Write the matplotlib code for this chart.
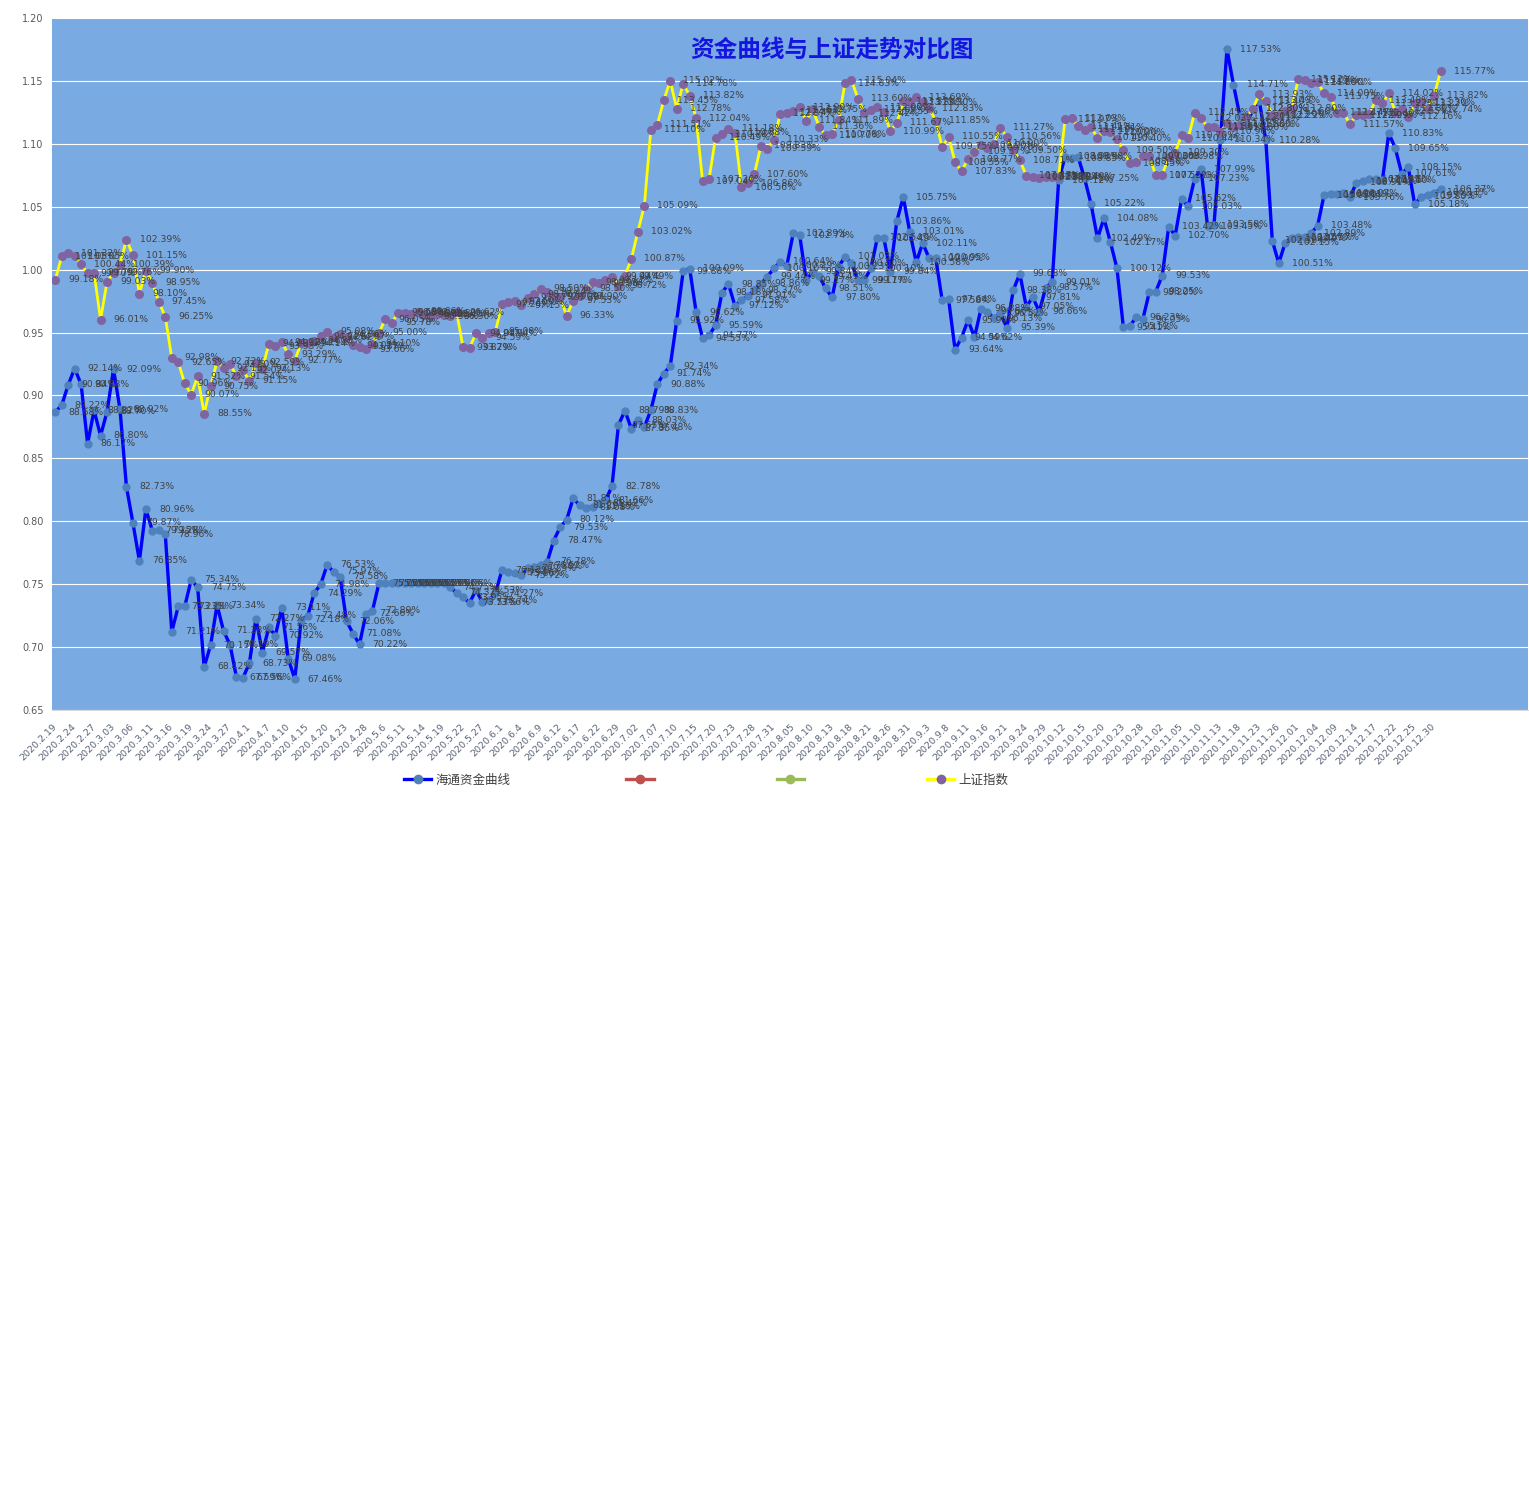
import numpy as np
import matplotlib
matplotlib.use('Agg')
import matplotlib.pyplot as plt
from matplotlib.lines import Line2D

# ==============================================
# Data
# ==============================================

tick_labels = [
    "2020.2.19", "2020.2.24", "2020.2.27", "2020.3.03", "2020.3.06", "2020.3.11",
    "2020.3.16", "2020.3.19", "2020.3.24", "2020.3.27", "2020.4.1", "2020.4.7",
    "2020.4.10", "2020.4.15", "2020.4.20", "2020.4.23", "2020.4.28", "2020.5.6",
    "2020.5.11", "2020.5.14", "2020.5.19", "2020.5.22", "2020.5.27", "2020.6.1",
    "2020.6.4", "2020.6.9", "2020.6.12", "2020.6.17", "2020.6.22", "2020.6.29",
    "2020.7.02", "2020.7.07", "2020.7.10", "2020.7.15", "2020.7.20", "2020.7.23",
    "2020.7.28", "2020.7.31", "2020.8.05", "2020.8.10", "2020.8.13", "2020.8.18",
    "2020.8.21", "2020.8.26", "2020.8.31", "2020.9.3", "2020.9.8", "2020.9.11",
    "2020.9.16", "2020.9.21", "2020.9.24", "2020.9.29", "2020.10.12", "2020.10.15",
    "2020.10.20", "2020.10.23", "2020.10.28", "2020.11.02", "2020.11.05", "2020.11.10",
    "2020.11.13", "2020.11.18", "2020.11.23", "2020.11.26", "2020.12.01", "2020.12.04",
    "2020.12.09", "2020.12.14", "2020.12.17", "2020.12.22", "2020.12.25", "2020.12.30",
]

# 海通资金曲线 (one value per trading day)
fund_curve = [
    0.8868, 0.8922, 0.9084, 0.9214, 0.9088, 0.8617, 0.8882, 0.8680, 0.8870, 0.9209,
    0.8892, 0.8273, 0.7987, 0.7685, 0.8096, 0.7925, 0.7928, 0.7896, 0.7121, 0.7323,
    0.7323, 0.7534, 0.7475, 0.6842, 0.7015, 0.7334, 0.7128, 0.7019, 0.6759, 0.6756,
    0.6873, 0.7227, 0.6957, 0.7156, 0.7092, 0.7311, 0.6908, 0.6746, 0.7218, 0.7248,
    0.7429, 0.7498, 0.7653, 0.7597, 0.7558, 0.7206, 0.7108, 0.7022, 0.7266, 0.7289,
    0.7506, 0.7506, 0.7506, 0.7506, 0.7506, 0.7506, 0.7506, 0.7506, 0.7506, 0.7506,
    0.7506, 0.7475, 0.7432, 0.7395, 0.7353, 0.7453, 0.7356, 0.7374, 0.7427, 0.7612,
    0.7594, 0.7586, 0.7572, 0.7625, 0.7638, 0.7652, 0.7678, 0.7847, 0.7953, 0.8012,
    0.8181, 0.8129, 0.8108, 0.8115, 0.8142, 0.8166, 0.8278, 0.8765, 0.8879, 0.8735,
    0.8803, 0.8748, 0.8883, 0.9088, 0.9174, 0.9234, 0.9592, 0.9988, 1.0009, 0.9662,
    0.9455, 0.9477, 0.9559, 0.9818, 0.9885, 0.9712, 0.9758, 0.9791, 0.9837, 0.9886,
    0.9944, 1.0010, 1.0064, 1.0029, 1.0289, 1.0274, 0.9917, 0.9984, 0.9949, 0.9851,
    0.9780, 1.0023, 1.0103, 1.0050, 0.9917, 0.9917, 1.0010, 1.0254, 1.0249, 0.9984,
    1.0386, 1.0575, 1.0301, 1.0058, 1.0211, 1.0090, 1.0095, 0.9758, 0.9764, 0.9364,
    0.9459, 0.9599, 0.9462, 0.9688, 0.9666, 0.9613, 0.9652, 0.9539, 0.9838, 0.9968,
    0.9705, 0.9781, 0.9666, 0.9857, 0.9901, 1.0712, 1.0898, 1.0885, 1.0898, 1.0725,
    1.0522, 1.0249, 1.0408, 1.0217, 1.0012, 0.9541, 0.9552, 0.9623, 0.9605, 0.9820,
    0.9825, 0.9953, 1.0342, 1.0270, 1.0562, 1.0503, 1.0723, 1.0799, 1.0345, 1.0358,
    1.1034, 1.1753, 1.1471, 1.1220, 1.1150, 1.1280, 1.1340, 1.1028, 1.0230, 1.0051,
    1.0215, 1.0249, 1.0257, 1.0257, 1.0289, 1.0348, 1.0593, 1.0601, 1.0601, 1.0607,
    1.0576, 1.0691, 1.0704, 1.0718, 1.0718, 1.0710, 1.1083, 1.0965, 1.0761, 1.0815,
    1.0518, 1.0580, 1.0593, 1.0611, 1.0637,
]

# 上证指数 (normalised)
sh_index = [
    0.9918, 1.0105, 1.0132, 1.0105, 1.0044, 0.9970, 0.9975, 0.9601, 0.9903, 0.9976,
    1.0039, 1.0239, 1.0115, 0.9810, 0.9990, 0.9895, 0.9745, 0.9625, 0.9298, 0.9265,
    0.9096, 0.9007, 0.9152, 0.8855, 0.9075, 0.9272, 0.9215, 0.9250, 0.9154, 0.9202,
    0.9115, 0.9259, 0.9213, 0.9409, 0.9393, 0.9422, 0.9329, 0.9277, 0.9419, 0.9414,
    0.9435, 0.9472, 0.9508, 0.9462, 0.9486, 0.9467, 0.9401, 0.9387, 0.9366, 0.9410,
    0.9500, 0.9605, 0.9578, 0.9658, 0.9658, 0.9648, 0.9666, 0.9640, 0.9630, 0.9650,
    0.9640, 0.9630, 0.9662, 0.9382, 0.9379, 0.9494, 0.9459, 0.9494, 0.9508, 0.9724,
    0.9740, 0.9750, 0.9715, 0.9777, 0.9806, 0.9850, 0.9824, 0.9790, 0.9780, 0.9633,
    0.9753, 0.9790, 0.9850, 0.9899, 0.9890, 0.9917, 0.9944, 0.9872, 0.9949, 1.0087,
    1.0302, 1.0509, 1.1110, 1.1151, 1.1345, 1.1502, 1.1278, 1.1478, 1.1382, 1.1204,
    1.0704, 1.0720, 1.1049, 1.1078, 1.1118, 1.1088, 1.0656, 1.0686, 1.0760, 1.0983,
    1.0959, 1.1033, 1.1237, 1.1247, 1.1263, 1.1290, 1.1184, 1.1275, 1.1136, 1.1070,
    1.1078, 1.1189, 1.1483, 1.1504, 1.1360, 1.1242, 1.1269, 1.1290, 1.1255, 1.1099,
    1.1167, 1.1337, 1.1330, 1.1369, 1.1330, 1.1283, 1.1185, 1.0975, 1.1055, 1.0855,
    1.0783, 1.0877, 1.0937, 1.0990, 1.0970, 1.1000, 1.1127, 1.1056, 1.0950, 1.0871,
    1.0747, 1.0739, 1.0731, 1.0739, 1.0734, 1.0740, 1.1197, 1.1203, 1.1141, 1.1110,
    1.1131, 1.1049, 1.1100, 1.1090, 1.1040, 1.0950, 1.0845, 1.0858, 1.0903, 1.0900,
    1.0752, 1.0752, 1.0898, 1.0930, 1.1070, 1.1044, 1.1245, 1.1203, 1.1136, 1.1131,
    1.1096, 1.1163, 1.1130, 1.1150, 1.1211, 1.1280, 1.1393, 1.1343, 1.1229, 1.1229,
    1.1260, 1.1280, 1.1512, 1.1507, 1.1486, 1.1490, 1.1400, 1.1375, 1.1247, 1.1247,
    1.1157, 1.1229, 1.1229, 1.1240, 1.1348, 1.1322, 1.1402, 1.1255, 1.1280, 1.1216,
    1.1322, 1.1330, 1.1274, 1.1382, 1.1577,
]

n_categories = 228  # axis keeps some empty rows after the last date

# ==============================================
# Figure
# ==============================================

W, H = 1529, 1496
fig = plt.figure(figsize=(W / 100, H / 100), dpi=100)
fig.patch.set_facecolor('white')
ax = fig.add_axes([52 / W, 1 - 710 / H, 1476 / W, 692 / H])
ax.set_facecolor('#7AAAE2')

x = np.arange(len(fund_curve))

ax.plot(x, fund_curve, color='#0000FF', lw=2.4, marker='o', ms=5,
        mfc='#4F81BD', mec='#4F81BD', zorder=3)
ax.plot(x, sh_index, color='#FFFF00', lw=2.0, marker='o', ms=5.5,
        mfc='#8064A2', mec='#8064A2', zorder=4)

# data labels to the right of every point
for series in (fund_curve, sh_index):
    for xi, v in zip(x, series):
        ax.annotate(f'{v * 100:.2f}%', (xi, v), xytext=(9.4, 0),
                    textcoords='offset points', ha='left', va='center',
                    fontsize=6.7, color='#404040', zorder=6, clip_on=False)

ax.set_xlim(-0.5, n_categories - 0.5)
ax.set_ylim(0.65, 1.20)
ax.set_yticks(np.arange(0.65, 1.2001, 0.05))
ax.set_yticklabels([f'{t:.2f}' for t in np.arange(0.65, 1.2001, 0.05)],
                   fontsize=7, color='#595959')
ax.yaxis.grid(True, color='white', lw=0.8)
ax.set_axisbelow(True)

ax.set_xticks(range(0, 3 * len(tick_labels), 3))
ax.set_xticklabels(tick_labels, rotation=45, ha='right', va='center',
                   rotation_mode='anchor', fontsize=6.8, color='#5A6478')
ax.tick_params(axis='both', length=0)
ax.tick_params(axis='x', pad=11)
ax.tick_params(axis='y', pad=6)

for side in ('left', 'right', 'top'):
    ax.spines[side].set_visible(False)
ax.spines['bottom'].set_color('#D9D9D9')

fig.text(832 / W, 1 - 50 / H, '资金曲线与上证走势对比图', fontsize=17,
         color='#1515E0', ha='center', va='center',
         family='Noto Sans CJK SC', weight='bold')

# legend (two empty series in the original workbook)
handles = [
    Line2D([], [], color='#0000FF', lw=2.4, marker='o', ms=6, mfc='#4F81BD', mec='#4F81BD'),
    Line2D([], [], color='#C0504D', lw=2.4, marker='o', ms=6, mfc='#C0504D', mec='#C0504D'),
    Line2D([], [], color='#9BBB59', lw=2.4, marker='o', ms=6, mfc='#9BBB59', mec='#9BBB59'),
    Line2D([], [], color='#FFFF00', lw=2.4, marker='o', ms=6, mfc='#8064A2', mec='#8064A2'),
]
fig.legend(handles, ['海通资金曲线', ' ', ' ', '上证指数'], ncol=4, loc='center',
           bbox_to_anchor=(706 / W, 1 - 780 / H), frameon=False,
           prop={'family': 'Noto Sans CJK SC', 'size': 9},
           columnspacing=9.3, handlelength=2.2, handletextpad=0.3,
           labelcolor='#404040')

fig.savefig('out.png', dpi=100, facecolor='white')
